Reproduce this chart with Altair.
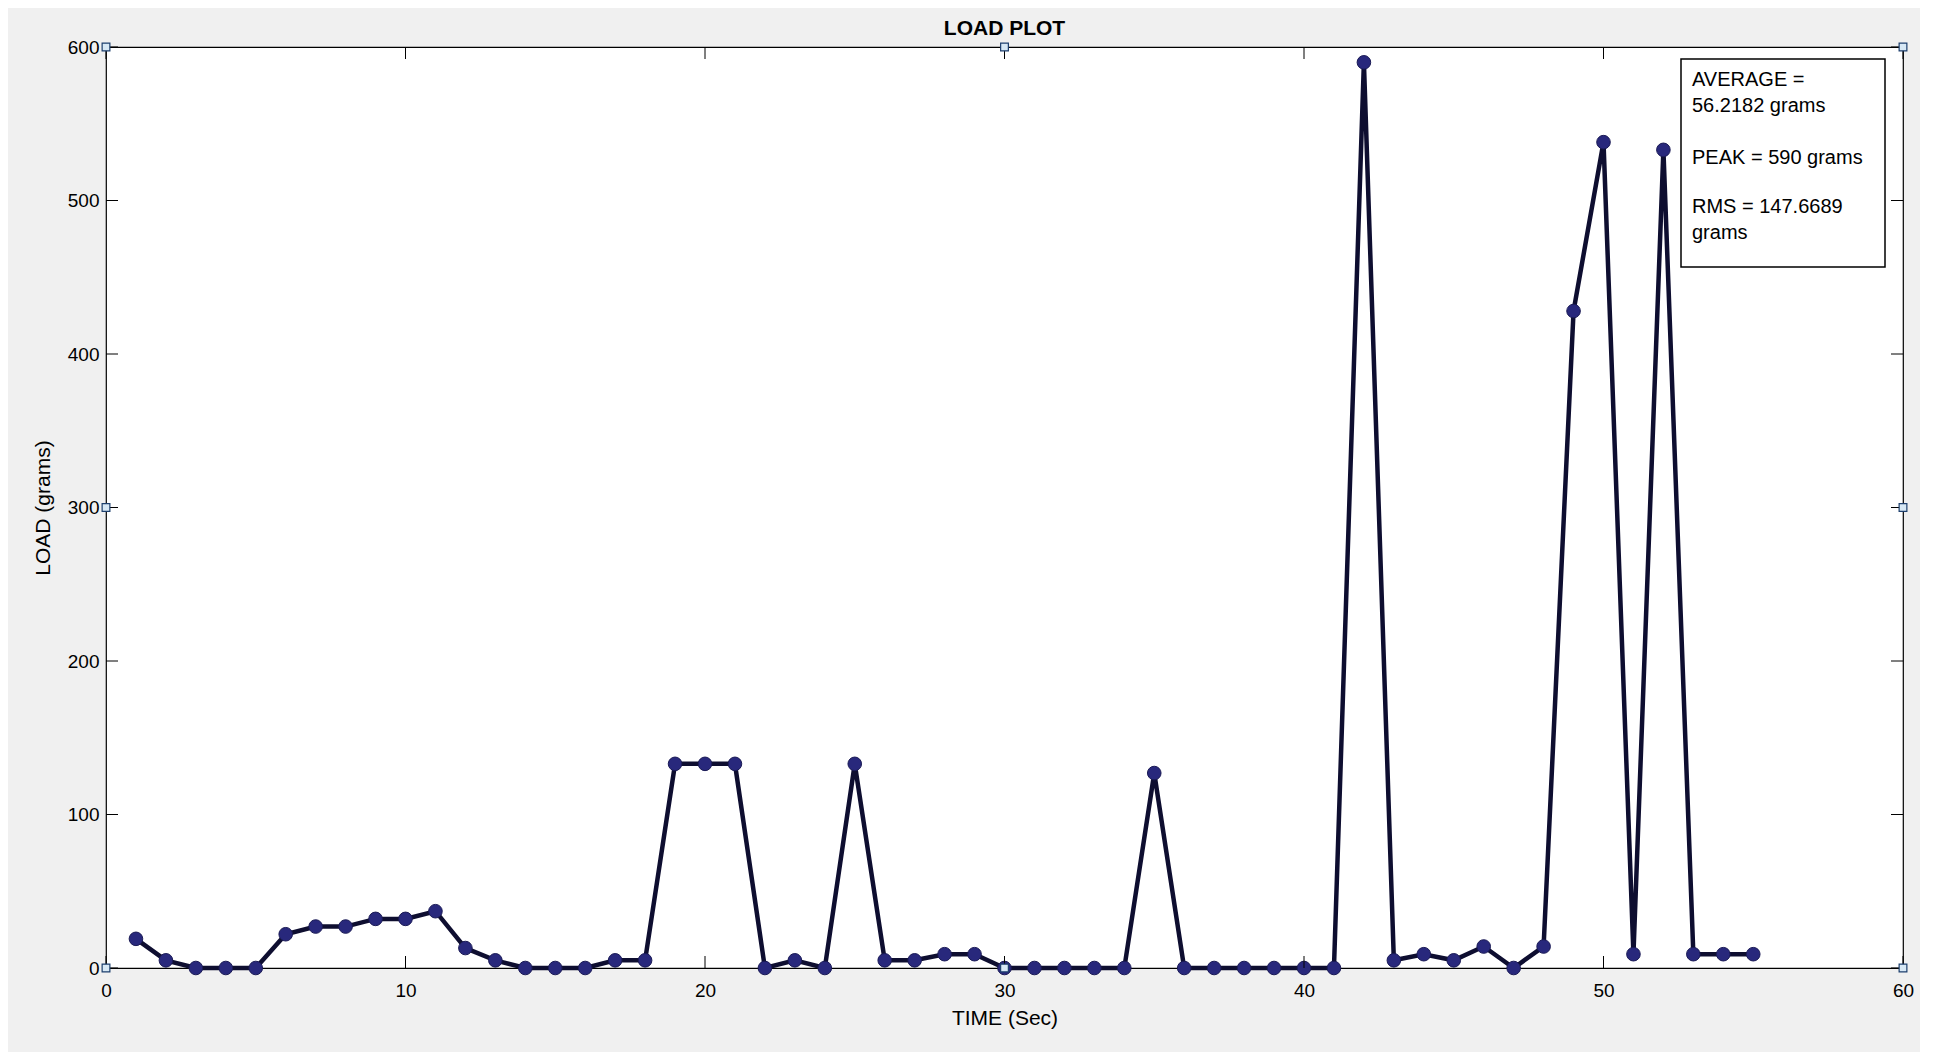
import altair as alt
import pandas as pd

# ---- data ----
time_s = list(range(1, 56))
load_g = [19, 5, 0, 0, 0, 22, 27, 27, 32, 32, 37, 13, 5, 0, 0, 0, 5, 5,
          133, 133, 133, 0, 5, 0, 133, 5, 5, 9, 9, 0, 0, 0, 0, 0, 127,
          0, 0, 0, 0, 0, 0, 590, 5, 9, 5, 14, 0, 14, 428, 538, 9, 533, 9, 9, 9]
x_ticks = [0, 10, 20, 30, 40, 50, 60]
y_ticks = [0, 100, 200, 300, 400, 500, 600]
cursor_x = [0, 0, 0, 60, 60, 60, 30, 30]
cursor_y = [0, 300, 600, 0, 300, 600, 600, 0]
stats_avg = ["AVERAGE =", "56.2182 grams"]
stats_peak = ["PEAK = 590 grams"]
stats_rms = ["RMS = 147.6689", "grams"]

W, H = 1797, 921
FONT = "Liberation Sans"
TL = 12  # inward tick length

df = pd.DataFrame({"x": time_s, "y": load_g})
xt = pd.DataFrame({"x": x_ticks})
yt = pd.DataFrame({"y": y_ticks})
cur = pd.DataFrame({"x": cursor_x, "y": cursor_y})
one = pd.DataFrame({"a": [0]})

xs = alt.Scale(domain=[0, 60], nice=False, zero=False)
ys = alt.Scale(domain=[0, 600], nice=False, zero=False)
xax = alt.Axis(values=x_ticks, ticks=False, domain=False, grid=False,
               labelFontSize=19, labelPadding=13, labelColor="black",
               labelFont=FONT, labelFlush=False, title="TIME (Sec)",
               titleFont=FONT, titleFontSize=21, titleFontWeight="normal",
               titleColor="black", titlePadding=7)
yax = alt.Axis(values=y_ticks, ticks=False, domain=False, grid=False,
               labelFontSize=19, labelPadding=7, labelColor="black",
               labelFont=FONT, labelFlush=False, title="LOAD (grams)",
               titleFont=FONT, titleFontSize=21, titleFontWeight="normal",
               titleColor="black", titlePadding=14)

X = alt.X("x:Q", scale=xs, axis=xax)
Y = alt.Y("y:Q", scale=ys, axis=yax)

line = alt.Chart(df).mark_line(color="#0e0e30", strokeWidth=4.5).encode(x=X, y=Y)
pts = alt.Chart(df).mark_point(filled=True, shape="circle", size=185,
                               color="#28287c", stroke="#1a1a55",
                               strokeWidth=1, opacity=1).encode(x=X, y=Y)

tick_style = dict(color="black", strokeWidth=1)
xb = alt.Chart(xt).mark_rule(**tick_style).encode(
    x=alt.X("x:Q", scale=xs, axis=xax), y=alt.value(H), y2=alt.value(H - TL))
xtop = alt.Chart(xt).mark_rule(**tick_style).encode(
    x=alt.X("x:Q", scale=xs, axis=xax), y=alt.value(0), y2=alt.value(TL))
yl = alt.Chart(yt).mark_rule(**tick_style).encode(
    y=alt.Y("y:Q", scale=ys, axis=yax), x=alt.value(0), x2=alt.value(TL))
yr = alt.Chart(yt).mark_rule(**tick_style).encode(
    y=alt.Y("y:Q", scale=ys, axis=yax), x=alt.value(W - TL), x2=alt.value(W))

cursors = alt.Chart(cur).mark_point(shape="square", size=60, filled=True,
                                    fill="#d7e8f5", stroke="#1d3f6e",
                                    strokeWidth=1.2, opacity=1).encode(x=X, y=Y)

box = alt.Chart(one).mark_rect(fill="white", stroke="black",
                               strokeWidth=1.5).encode(
    x=alt.value(1575), x2=alt.value(1779), y=alt.value(12), y2=alt.value(220))

def stat_text(lines, top):
    return alt.Chart(one).mark_text(align="left", baseline="top", fontSize=20,
                                    font=FONT, color="black", lineHeight=25.5,
                                    text=lines).encode(
        x=alt.value(1586), y=alt.value(top))

t1 = stat_text(stats_avg, 23)
t2 = stat_text(stats_peak, 101)
t3 = stat_text(stats_rms, 150)

chart = alt.layer(line, pts, xb, xtop, yl, yr, cursors, box, t1, t2, t3).properties(
    width=W, height=H,
    title=alt.TitleParams("LOAD PLOT", fontSize=21, fontWeight="bold",
                          font=FONT, color="black", offset=-1),
    autosize=alt.AutoSizeParams(type="none"),
    padding={"left": 98, "top": 39, "right": 17, "bottom": 84},
    background="#f0f0f0",
).configure_view(fill="white", stroke="black", strokeWidth=1.2)

chart.save("out.html", embed_options={"renderer": "svg", "actions": False})
